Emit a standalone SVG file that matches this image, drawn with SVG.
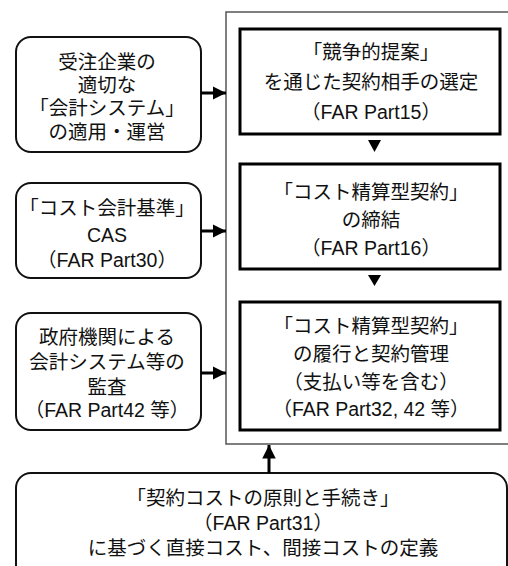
<svg xmlns="http://www.w3.org/2000/svg" width="508" height="566" viewBox="0 0 508 566">
<style>
text{font-family:"Liberation Sans","Noto Sans CJK JP",sans-serif;font-size:19.5px;fill:#111;text-anchor:middle}
.side{fill:#fff;stroke:#111;stroke-width:2}
.main{fill:#fff;stroke:#000;stroke-width:3}
.cont{fill:none;stroke:#555;stroke-width:1.5}
.conn{stroke:#000;stroke-width:3;fill:none}
.tri{fill:#000}
</style>
<defs>
<marker id="ah" viewBox="0 0 10 10" refX="10" refY="5" markerWidth="4.5" markerHeight="4.5" markerUnits="strokeWidth" orient="auto">
<path d="M0,0 L10,5 L0,10 z" fill="#000"/>
</marker>
</defs>
<rect id="container" class="cont" x="226" y="12" width="300" height="432"/>
<g id="box1">
<rect class="main" x="240" y="29" width="260" height="105"/>
<text x="371" y="59">「競争的提案」</text>
<text x="371" y="89">を通じた契約相手の選定</text>
<text x="371" y="119">（FAR Part15）</text>
</g>
<g id="box2">
<rect class="main" x="240" y="164" width="260" height="105"/>
<text x="371" y="199">「コスト精算型契約」</text>
<text x="371" y="227">の締結</text>
<text x="371" y="255">（FAR Part16）</text>
</g>
<g id="box3">
<rect class="main" x="240" y="302" width="260" height="128"/>
<text x="371" y="333">「コスト精算型契約」</text>
<text x="371" y="361">の履行と契約管理</text>
<text x="371" y="389">（支払い等を含む）</text>
<text x="371" y="416">（FAR Part32, 42 等）</text>
</g>
<g id="boxA">
<rect class="side" x="16" y="37" width="185" height="115" rx="15"/>
<text x="107" y="69">受注企業の</text>
<text x="107" y="92">適切な</text>
<text x="107" y="115">「会計システム」</text>
<text x="107" y="139">の適用・運営</text>
</g>
<g id="boxB">
<rect class="side" x="16" y="183" width="185" height="95" rx="15"/>
<text x="107" y="215">「コスト会計基準」</text>
<text x="107" y="242">CAS</text>
<text x="107" y="267">（FAR Part30）</text>
</g>
<g id="boxC">
<rect class="side" x="16" y="313" width="185" height="117" rx="15"/>
<text x="107" y="344">政府機関による</text>
<text x="107" y="369">会計システム等の</text>
<text x="107" y="394">監査</text>
<text x="107" y="417">（FAR Part42 等）</text>
</g>
<g id="boxD">
<rect class="side" x="16" y="473" width="491" height="140" rx="15"/>
<text x="263" y="505">「契約コストの原則と手続き」</text>
<text x="263" y="530">（FAR Part31）</text>
<text x="263" y="555">に基づく直接コスト、間接コストの定義</text>
</g>
<g id="connectors">
<line class="conn" x1="201" y1="93" x2="226" y2="93" marker-end="url(#ah)"/>
<line class="conn" x1="201" y1="231" x2="226" y2="231" marker-end="url(#ah)"/>
<line class="conn" x1="201" y1="373" x2="226" y2="373" marker-end="url(#ah)"/>
<line class="conn" x1="269" y1="473" x2="269" y2="445" marker-end="url(#ah)"/>
<polygon class="tri" points="368,140 381,140 374.5,152"/>
<polygon class="tri" points="368,275 381,275 374.5,286"/>
</g>
</svg>
